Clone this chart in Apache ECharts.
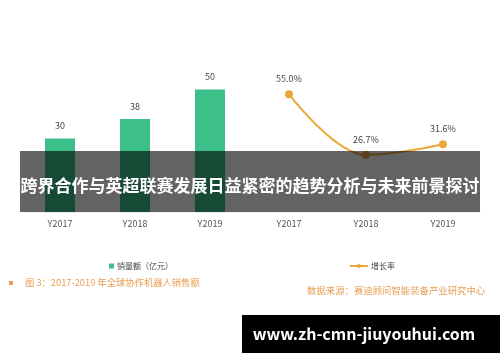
<!DOCTYPE html>
<html><head><meta charset="utf-8">
<script src="https://cdn.jsdelivr.net/npm/echarts@6/dist/echarts.min.js"></script>
<style>html,body{margin:0;padding:0;background:#fff}#c{width:500px;height:362px}</style>
</head><body><div id="c"></div>
<script>
const categories = ['Y2017', 'Y2018', 'Y2019'];
const salesValues = [30, 38, 50];
const growthValues = [55.0, 26.7, 31.6];
const salesName = '销量额（亿元）';
const growthName = '增长率';
const bannerText = '跨界合作与英超联赛发展日益紧密的趋势分析与未来前景探讨';
const figCaption = '图 3：2017-2019 年全球协作机器人销售额';
const sourceText = '数据来源：赛迪顾问智能装备产业研究中心';
const watermarkText = 'www.zh-cmn-jiuyouhui.com';

const FONT = '"Noto Sans CJK SC","Noto Sans",sans-serif';
const chart = echarts.init(document.getElementById('c'), null, {renderer: 'canvas'});
chart.setOption({
  animation: false,
  textStyle: {fontFamily: FONT},
  grid: [
    {left: 22.5, width: 225, top: 65, height: 147},
    {left: 250.5, width: 231, top: 62, height: 150}
  ],
  xAxis: [
    {gridIndex: 0, type: 'category', data: categories, axisLine: {show: true, lineStyle: {color: '#eeeeee'}}, axisTick: {show: false},
     axisLabel: {color: '#555', fontSize: 9, margin: 7, fontFamily: FONT}},
    {gridIndex: 1, type: 'category', data: categories, axisLine: {show: true, lineStyle: {color: '#eeeeee'}}, axisTick: {show: false},
     axisLabel: {color: '#555', fontSize: 9, margin: 7, fontFamily: FONT}}
  ],
  yAxis: [
    {gridIndex: 0, type: 'value', min: 0, max: 60, show: false, splitLine: {show: false}},
    {gridIndex: 1, type: 'value', min: 0, max: 70, show: false, splitLine: {show: false}}
  ],
  legend: [
    {data: [salesName], left: 104, top: 257, icon: 'rect', itemWidth: 5, itemHeight: 5, itemGap: 4,
     textStyle: {fontSize: 8, color: '#444', fontFamily: FONT, padding: [0, 0, 0, -2]}},
    {data: [growthName], left: 344, top: 257, itemWidth: 18, itemHeight: 5, itemGap: 4,
     textStyle: {fontSize: 8, color: '#444', fontFamily: FONT, padding: [0, 0, 0, -2]}}
  ],
  series: [
    {name: salesName, type: 'bar', xAxisIndex: 0, yAxisIndex: 0, data: salesValues, barWidth: 30,
     itemStyle: {color: '#3dbf8a'},
     label: {show: true, position: 'top', distance: 8, fontSize: 9, color: '#444', fontFamily: FONT}},
    {name: growthName, type: 'line', xAxisIndex: 1, yAxisIndex: 1, data: growthValues, smooth: 0.4, smoothMonotone: 'x',
     symbol: 'circle', symbolSize: 8,
     lineStyle: {color: '#e9a83c', width: 2}, itemStyle: {color: '#e9a83c'},
     label: {show: true, position: 'top', distance: 7, fontSize: 9, color: '#444', fontFamily: FONT,
             formatter: p => p.value.toFixed(1) + '%'}}
  ],
  graphic: [
    {type: 'rect', left: 9, top: 281, shape: {width: 4, height: 4}, style: {fill: '#e9a05a'}},
    {type: 'text', left: 25, top: 278, style: {text: figCaption, fill: '#e89f55', font: '9.3px ' + FONT}},
    {type: 'text', left: 307, top: 286, style: {text: sourceText, fill: '#e89f55', font: '9.4px ' + FONT}},
    {type: 'rect', left: 20, top: 151, z: 100, shape: {width: 460, height: 61}, style: {fill: 'rgba(0,0,0,0.61)'}},
    {type: 'text', x: 250, y: 186, z: 101, style: {text: bannerText, fill: '#fff', font: 'bold 17px ' + FONT, align: 'center', verticalAlign: 'middle'}},
    {type: 'rect', left: 242, top: 315, z: 100, shape: {width: 258, height: 38}, style: {fill: '#000'}},
    {type: 'text', x: 364, y: 334, z: 101, style: {text: watermarkText, fill: '#fff', font: 'bold 16px ' + FONT, align: 'center', verticalAlign: 'middle'}}
  ]
});
</script></body></html>
